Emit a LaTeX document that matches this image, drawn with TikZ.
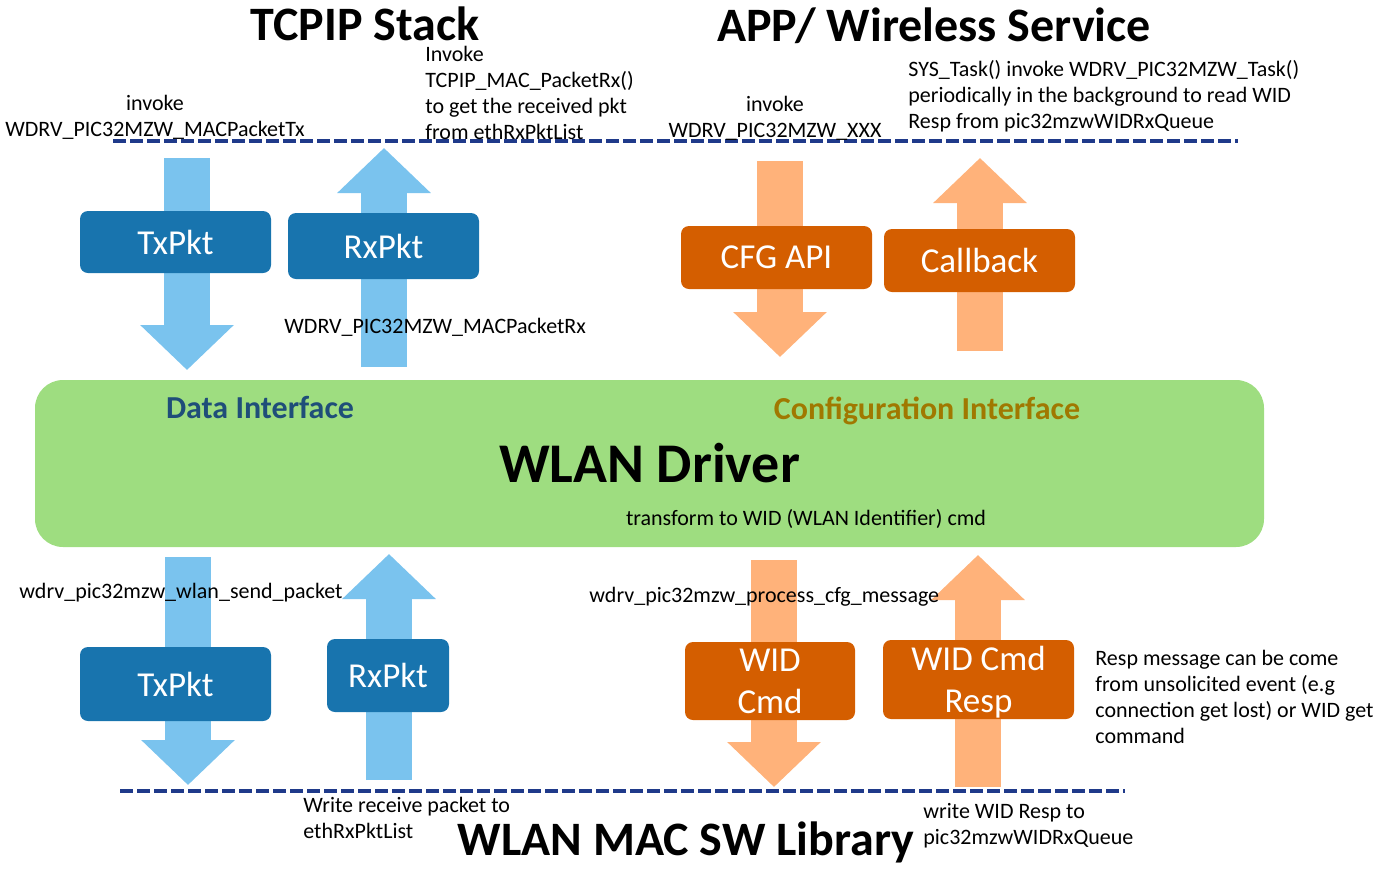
\documentclass[tikz,border=0pt]{standalone}
\usepackage{fontspec}
\setmainfont{Carlito}
\usepackage{xcolor}
\definecolor{colorPktArrow}{RGB}{122,195,238}
\definecolor{colorPktBox}{RGB}{24,116,174}
\definecolor{colorCfgArrow}{RGB}{255,178,122}
\definecolor{colorCfgBox}{RGB}{212,94,0}
\definecolor{colorDriver}{RGB}{158,221,128}
\definecolor{colorBorder}{RGB}{31,58,138}
\definecolor{colorData}{RGB}{31,78,121}
\definecolor{colorConfig}{RGB}{160,120,0}
\usetikzlibrary{arrows.meta, positioning}
\tikzset{
  block/.style={rounded corners=4pt, text=white, font=\fontsize{17.5}{21}\selectfont, align=center, inner sep=0pt},
  pktbox/.style={block, fill=colorPktBox},
  cfgbox/.style={block, fill=colorCfgBox},
  flow/.style={line width=23pt, -{Triangle[length=22.5pt, width=45.5pt]}},
  pktflow/.style={flow, colorPktArrow},
  cfgflow/.style={flow, colorCfgArrow},
  lbl/.style={inner sep=0pt, font=\fontsize{11}{13}\selectfont},
  title/.style={inner sep=0pt, font=\fontsize{24}{28}\selectfont\bfseries},
  boundary/.style={colorBorder, line width=1.8pt, dash pattern=on 6.25pt off 2.25pt}
}
\begin{document}
\begin{tikzpicture}[x=0.5pt, y=-0.5pt]
\useasboundingbox (0,0) rectangle (1383,874);
\node[title] (tcpip) at (365,24) {TCPIP Stack};
\node[title] (app) at (934,26) {APP/ Wireless Service};
\node[title] (maclib) at (686,842) {WLAN MAC SW Library};
\coordinate (topL) at (113,141);
\coordinate (topR) at (1238,141);
\coordinate (botL) at (120,791);
\coordinate (botR) at (1125,791);
\draw[boundary] (topL) -- (topR);
\draw[boundary] (botL) -- (botR);
\node[fill=colorDriver, rounded corners=14pt, minimum width=614.5pt, minimum height=83.5pt, inner sep=0pt, font=\fontsize{28}{32}\selectfont\bfseries] (driver) at (649.5,463.5) {WLAN Driver};
\coordinate (txTopS) at (187,158);
\coordinate (txTopE) at (187,370);
\coordinate (rxTopS) at (384,367);
\coordinate (rxTopE) at (384,148);
\coordinate (cfgS) at (780,161);
\coordinate (cfgE) at (780,357);
\coordinate (cbS) at (980,351);
\coordinate (cbE) at (980,158);
\coordinate (txBotS) at (188,557);
\coordinate (txBotE) at (188,785);
\coordinate (rxBotS) at (389,780);
\coordinate (rxBotE) at (389,554);
\coordinate (widS) at (774,560);
\coordinate (widE) at (774,787);
\coordinate (respS) at (978,787);
\coordinate (respE) at (978,555);
\draw[pktflow] (txTopS) -- (txTopE);
\draw[pktflow] (rxTopS) -- (rxTopE);
\draw[cfgflow] (cfgS) -- (cfgE);
\draw[cfgflow] (cbS) -- (cbE);
\draw[pktflow] (txBotS) -- (txBotE);
\draw[pktflow] (rxBotS) -- (rxBotE);
\draw[cfgflow] (widS) -- (widE);
\draw[cfgflow] (respS) -- (respE);
\node[pktbox, minimum width=95.5pt, minimum height=31pt] (txTop) at (175.5,242) {TxPkt};
\node[pktbox, minimum width=95.5pt, minimum height=33pt] (rxTop) at (383.5,246) {RxPkt};
\node[cfgbox, minimum width=95.5pt, minimum height=31.5pt] (cfgApi) at (776.5,257.5) {CFG API};
\node[cfgbox, minimum width=95.5pt, minimum height=31.5pt] (callback) at (979.5,260.5) {Callback};
\node[pktbox, minimum width=95.5pt, minimum height=37pt] (txBot) at (175.5,684) {TxPkt};
\node[pktbox, minimum width=61pt, minimum height=36.5pt] (rxBot) at (388,675.5) {RxPkt};
\node[cfgbox, minimum width=85pt, minimum height=39pt] (widCmd) at (770,681) {WID\\Cmd};
\node[cfgbox, minimum width=95.5pt, minimum height=39.5pt, text depth=0pt] (widResp) at (978.5,679.5) {WID Cmd\\Resp};
\node[inner sep=0pt, text=colorData, font=\fontsize{16}{19}\selectfont\bfseries] (dataIf) at (260,407) {Data Interface};
\node[inner sep=0pt, text=colorConfig, font=\fontsize{16}{19}\selectfont\bfseries] (cfgIf) at (927,411) {Configuration Interface};
\node[lbl] (transform) at (806,519) {transform to WID (WLAN Identifier) cmd};
\node[lbl, align=center] (invokeTx) at (155,117) {invoke\\WDRV\_PIC32MZW\_MACPacketTx};
\node[lbl, align=left, anchor=west] (invokeRx) at (425,93) {Invoke\\TCPIP\_MAC\_PacketRx()\\to get the received pkt\\from ethRxPktList};
\node[lbl, anchor=west] (macRx) at (284,327) {WDRV\_PIC32MZW\_MACPacketRx};
\node[lbl, align=center] (invokeCfg) at (775,118) {invoke\\WDRV\_PIC32MZW\_XXX};
\node[lbl, align=left, anchor=west] (sysTask) at (908,96) {SYS\_Task() invoke WDRV\_PIC32MZW\_Task()\\periodically in the background to read WID\\Resp from pic32mzwWIDRxQueue};
\node[lbl, anchor=west] (sendPkt) at (19,593) {wdrv\_pic32mzw\_wlan\_send\_packet};
\node[lbl, anchor=west] (cfgMsg) at (589,597) {wdrv\_pic32mzw\_process\_cfg\_message};
\node[lbl, align=left, anchor=west] (respNote) at (1095,697) {Resp message can be come\\from unsolicited event (e.g\\connection get lost) or WID get\\command};
\node[lbl, align=left, anchor=west] (writeRx) at (303,818) {Write receive packet to\\ethRxPktList};
\node[lbl, align=left, anchor=west] (writeResp) at (923,826) {write WID Resp to\\pic32mzwWIDRxQueue};
\end{tikzpicture}
\end{document}
